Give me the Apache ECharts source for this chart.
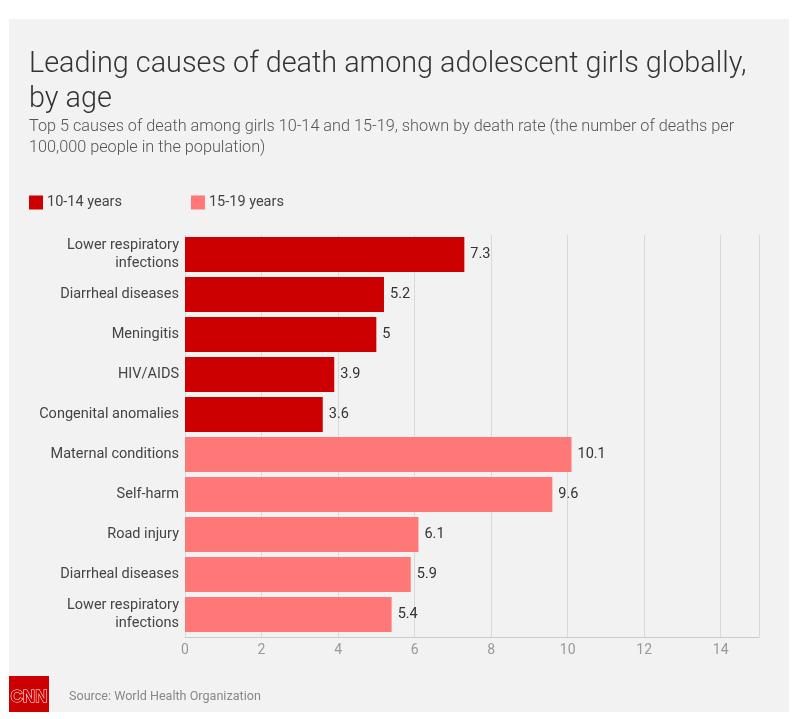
<!DOCTYPE html>
<html>
<head>
<meta charset="utf-8">
<style>
  html, body { margin: 0; padding: 0; background: #fff; }
  #chart { width: 811px; height: 719px; }
</style>
</head>
<body>
<div id="chart"></div>
<script src="https://cdn.jsdelivr.net/npm/echarts@6/dist/echarts.min.js"></script>
<script>
const categories = [
  'Lower respiratory\ninfections', 'Diarrheal diseases', 'Meningitis', 'HIV/AIDS', 'Congenital anomalies',
  'Maternal conditions', 'Self-harm', 'Road injury', 'Diarrheal diseases', 'Lower respiratory\ninfections'
];
const younger = [7.3, 5.2, 5, 3.9, 3.6, '-', '-', '-', '-', '-'];
const older = ['-', '-', '-', '-', '-', 10.1, 9.6, 6.1, 5.9, 5.4];
const titleText = 'Leading causes of death among adolescent girls globally,\nby age';
const subText = 'Top 5 causes of death among girls 10-14 and 15-19, shown by death rate (the number of deaths per\n100,000 people in the population)';
const sourceText = 'Source: World Health Organization';

const FONT = 'Roboto, "Open Sans", sans-serif';
const chart = echarts.init(document.getElementById('chart'));

function barSeries(name, data, color) {
  return {
    name: name,
    type: 'bar',
    stack: 'all',
    xAxisIndex: 1,
    yAxisIndex: 1,
    data: data,
    barWidth: 35,
    itemStyle: { color: color },
    label: {
      show: true,
      position: 'right',
      distance: 6,
      color: '#333',
      fontFamily: FONT,
      fontSize: 14.5
    }
  };
}

chart.setOption({
  animation: false,
  textStyle: { fontFamily: FONT },
  title: [
    {
      text: titleText,
      left: 29,
      top: 47,
      padding: 0,
      textStyle: { color: '#333', fontFamily: FONT, fontWeight: 300, fontSize: 28.8, lineHeight: 35 }
    },
    {
      text: subText,
      left: 29,
      top: 116,
      padding: 0,
      textStyle: { color: '#555', fontFamily: FONT, fontWeight: 300, fontSize: 16.25, lineHeight: 21 }
    },
    {
      text: sourceText,
      left: 69,
      top: 690,
      padding: 0,
      textStyle: { color: '#888', fontFamily: FONT, fontWeight: 400, fontSize: 12.6 }
    }
  ],
  legend: {
    left: 29,
    top: 195,
    padding: 0,
    icon: 'rect',
    itemWidth: 14,
    itemHeight: 14,
    itemGap: 69,
    selectedMode: false,
    textStyle: { color: '#444', fontFamily: FONT, fontSize: 14.5, padding: [0, 0, 0, -1] }
  },
  // first grid carries the visible value axis, second one the bars (they sit a bit above the axis line)
  grid: [
    { left: 185, width: 574, top: 235, height: 402 },
    { left: 185, width: 574, top: 234.5, height: 400 }
  ],
  xAxis: [
    {
      type: 'value',
      gridIndex: 0,
      min: 0,
      max: 15,
      interval: 2,
      axisLine: { show: true, lineStyle: { color: '#ccc' } },
      axisTick: { show: false },
      axisLabel: { color: '#999', fontSize: 14, margin: 6, showMaxLabel: false },
      splitLine: { show: true, lineStyle: { color: '#d9d9d9' } }
    },
    { type: 'value', gridIndex: 1, min: 0, max: 15, interval: 2, show: false, splitLine: { show: false } }
  ],
  yAxis: [
    { type: 'category', gridIndex: 0, data: categories, show: false },
    {
      type: 'category',
      gridIndex: 1,
      inverse: true,
      data: categories,
      axisLine: { show: false },
      axisTick: { show: false },
      axisLabel: { color: '#444', fontSize: 14.5, margin: 6, lineHeight: 18, interval: 0 }
    }
  ],
  series: [
    barSeries('10-14 years', younger, '#cc0000'),
    barSeries('15-19 years', older, '#ff7878')
  ],
  graphic: [
    { type: 'rect', z: -10, silent: true, shape: { x: 9, y: 19, width: 780, height: 693 }, style: { fill: '#f2f2f2' } },
    { type: 'rect', z: 5, silent: true, shape: { x: 9, y: 676, width: 40, height: 36 }, style: { fill: '#cc0000' } },
    { type: 'text', z: 6, silent: true, style: { x: 29, y: 697, text: 'CNN', fill: '#cc0000', stroke: '#fff', lineWidth: 1, font: 'bold 17px "Liberation Sans", sans-serif', align: 'center', verticalAlign: 'middle' } }
  ]
});
</script>
</body>
</html>
